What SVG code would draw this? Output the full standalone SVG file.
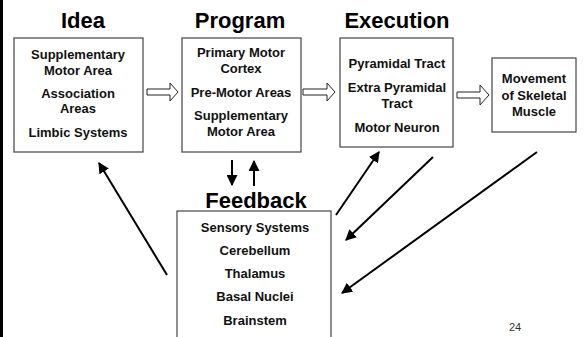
<svg xmlns="http://www.w3.org/2000/svg" width="587" height="337" viewBox="0 0 587 337">
<defs>
<style>
.box{fill:#fff;stroke:#444;stroke-width:1.2}
.title{font-family:"Liberation Sans",Arial,sans-serif;font-weight:bold;font-size:22px;fill:#000;text-anchor:middle}
.t{font-family:"Liberation Sans",Arial,sans-serif;font-weight:bold;font-size:13px;fill:#111;text-anchor:middle}
.blk{fill:#fff;stroke:#222;stroke-width:1}
.ln{stroke:#000;stroke-width:2;fill:none}
.num{font-family:"Liberation Sans",Arial,sans-serif;font-size:11px;fill:#333}
</style>
<marker id="ah" viewBox="0 0 10 10" refX="9" refY="5" markerWidth="5.5" markerHeight="5.5" orient="auto" markerUnits="strokeWidth">
<path d="M0,0 L10,5 L0,10 Z" fill="#000"/>
</marker>
</defs>
<rect x="0" y="0" width="3" height="337" fill="#000"/>
<g id="idea">
<text class="title" x="83" y="28">Idea</text>
<rect class="box" x="14" y="38" width="129" height="114"/>
<text class="t" x="78" y="59">Supplementary</text>
<text class="t" x="78" y="75">Motor Area</text>
<text class="t" x="78" y="98">Association</text>
<text class="t" x="78" y="113">Areas</text>
<text class="t" x="78" y="137">Limbic Systems</text>
</g>
<g id="program">
<text class="title" x="240" y="28">Program</text>
<rect class="box" x="182" y="38" width="119" height="114"/>
<text class="t" x="241" y="57">Primary Motor</text>
<text class="t" x="241" y="73">Cortex</text>
<text class="t" x="241" y="97">Pre-Motor Areas</text>
<text class="t" x="241" y="120">Supplementary</text>
<text class="t" x="241" y="136">Motor Area</text>
</g>
<g id="execution">
<text class="title" x="397" y="28">Execution</text>
<rect class="box" x="340" y="38" width="113" height="109"/>
<text class="t" x="397" y="68">Pyramidal Tract</text>
<text class="t" x="397" y="92">Extra Pyramidal</text>
<text class="t" x="397" y="108">Tract</text>
<text class="t" x="397" y="132">Motor Neuron</text>
</g>
<g id="movement">
<rect class="box" x="492" y="58" width="84" height="74"/>
<text class="t" x="534" y="83">Movement</text>
<text class="t" x="534" y="100">of Skeletal</text>
<text class="t" x="534" y="116">Muscle</text>
</g>
<g id="feedback">
<text class="title" x="256" y="208">Feedback</text>
<rect class="box" x="177" y="211" width="154" height="140"/>
<text class="t" x="255" y="232">Sensory Systems</text>
<text class="t" x="255" y="255">Cerebellum</text>
<text class="t" x="255" y="278">Thalamus</text>
<text class="t" x="255" y="301">Basal Nuclei</text>
<text class="t" x="255" y="325">Brainstem</text>
</g>
<g id="connectors">
<path class="blk" d="M147,89 H170 V83 L178,92 L170,101 V95 H147 Z"/>
<path class="blk" d="M303,89 H327 V83 L335,92 L327,101 V95 H303 Z"/>
<path class="blk" d="M457,92 H480 V85 L489,95 L480,105 V98 H457 Z"/>
<line class="ln" x1="232" y1="160" x2="232" y2="185" marker-end="url(#ah)"/>
<line class="ln" x1="254" y1="186" x2="254" y2="161" marker-end="url(#ah)"/>
<line class="ln" x1="167" y1="275" x2="99" y2="163" marker-end="url(#ah)"/>
<line class="ln" x1="336" y1="215" x2="379" y2="152" marker-end="url(#ah)"/>
<line class="ln" x1="433" y1="157" x2="346" y2="240" marker-end="url(#ah)"/>
<line class="ln" x1="537" y1="152" x2="342" y2="293" marker-end="url(#ah)"/>
</g>
<text class="num" x="509" y="331">24</text>
</svg>
